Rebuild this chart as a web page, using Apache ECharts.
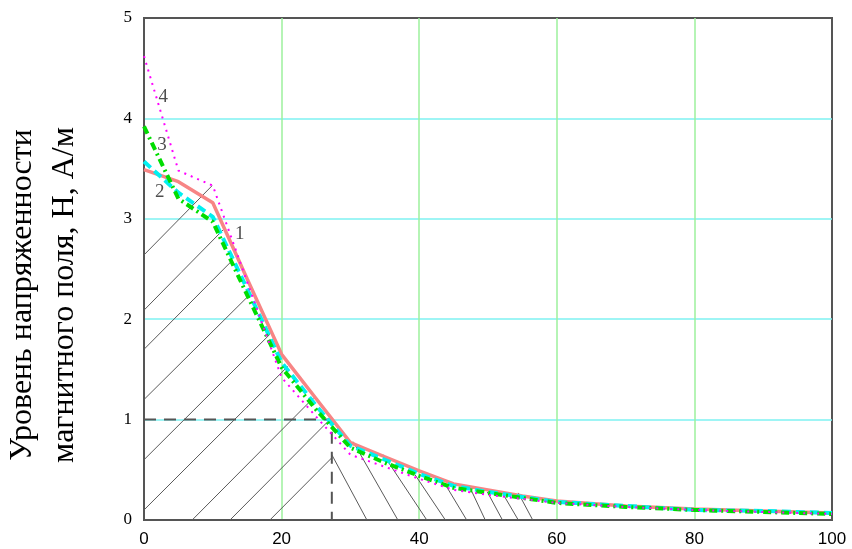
<!DOCTYPE html>
<html>
<head>
<meta charset="utf-8">
<script src="https://cdn.jsdelivr.net/npm/echarts@6/dist/echarts.min.js"></script>
<style>html,body{margin:0;padding:0;background:#fff}#c{width:852px;height:549px}</style>
</head>
<body>
<div id="c"></div>
<script>
// ---- data ----
const xs = [0, 5, 10, 15, 20, 25, 30, 35, 40, 45, 50, 55, 60, 70, 80, 90, 100];
const curve1 = [3.49, 3.37, 3.16, 2.40, 1.65, 1.21, 0.77, 0.63, 0.49, 0.36, 0.30, 0.24, 0.19, 0.14, 0.11, 0.09, 0.07];
const curve2 = [3.57, 3.26, 3.02, 2.30, 1.57, 1.14, 0.74, 0.60, 0.46, 0.34, 0.28, 0.23, 0.18, 0.14, 0.10, 0.09, 0.07];
const curve3 = [3.92, 3.20, 2.97, 2.24, 1.52, 1.10, 0.72, 0.57, 0.44, 0.32, 0.27, 0.22, 0.17, 0.13, 0.10, 0.08, 0.06];
const curve4 = [4.62, 3.48, 3.33, 2.37, 1.42, 1.03, 0.65, 0.53, 0.41, 0.30, 0.25, 0.21, 0.17, 0.13, 0.10, 0.08, 0.06];
const curveNames = ['1', '2', '3', '4'];
// hatch segments [x1, y1, x2, y2]
const hatchForward = [
  [0, 2.64, 9.9, 3.33], [0, 2.09, 11.5, 2.89], [0, 1.70, 12.9, 2.59],
  [0, 1.20, 15.6, 2.26], [0, 0.60, 18.3, 1.85], [0, 0.10, 20.9, 1.53],
  [7.0, 0, 24.7, 1.22], [12.5, 0, 27.3, 1.02], [18.3, 0, 27.3, 0.62]
];
const hatchBack = [
  [27.3, 0.65, 32.4, 0], [30.4, 0.78, 36.9, 0], [34.8, 0.65, 41.1, 0],
  [39.4, 0.45, 43.8, 0], [44.0, 0.33, 46.9, 0], [47.4, 0.32, 49.6, 0],
  [49.9, 0.28, 52.1, 0], [52.0, 0.28, 54.4, 0], [54.4, 0.27, 56.5, 0]
];
const guide = [[0, 1], [27.3, 1], [27.3, 0]];
const labelPts = [[13.9, 2.85, '1'], [2.3, 3.27, '2'], [2.6, 3.73, '3'], [2.8, 4.21, '4']];
const xTicks = [0, 20, 40, 60, 80, 100];
const yTicks = [0, 1, 2, 3, 4, 5];
const yTitle = 'Уровень напряженности\nмагнитного поля, Н, А/м';

function pairs(ys) { return xs.map((x, i) => [x, ys[i]]); }

const chart = echarts.init(document.getElementById('c'), null, {renderer: 'canvas'});

function hatchSeries(data) {
  return {
    type: 'custom',
    data: data,
    z: 2,
    silent: true,
    encode: {x: [0, 2], y: [1, 3]},
    renderItem: function (params, api) {
      const p1 = api.coord([api.value(0), api.value(1)]);
      const p2 = api.coord([api.value(2), api.value(3)]);
      return {
        type: 'line',
        shape: {x1: p1[0], y1: p1[1], x2: p2[0], y2: p2[1]},
        style: {stroke: '#5a5a5a', lineWidth: 1}
      };
    }
  };
}

chart.setOption({
  animation: false,
  backgroundColor: '#ffffff',
  grid: {left: 144, right: 20, top: 18, bottom: 29, outerBoundsMode: 'none', containLabel: false,
         show: true, borderColor: '#555', borderWidth: 2, backgroundColor: 'transparent'},
  xAxis: {
    type: 'value', min: xTicks[0], max: xTicks[xTicks.length - 1], interval: 20,
    axisLine: {show: true, lineStyle: {color: '#555', width: 2}},
    axisTick: {show: false},
    axisLabel: {color: '#000', fontSize: 17, fontFamily: 'Liberation Sans', margin: 11},
    splitLine: {show: true, showMinLine: false, showMaxLine: false, lineStyle: {color: '#9cf09c', width: 1.5}}
  },
  yAxis: {
    type: 'value', min: yTicks[0], max: yTicks[yTicks.length - 1], interval: 1,
    name: yTitle, nameLocation: 'middle', nameRotate: 90, nameGap: 58,
    nameTextStyle: {color: '#000', fontSize: 32, fontFamily: 'Liberation Serif', lineHeight: 42, padding: [0, 52, 0, 0]},
    axisLine: {show: true, lineStyle: {color: '#555', width: 2}},
    axisTick: {show: false},
    axisLabel: {color: '#000', fontSize: 17, fontFamily: 'Liberation Serif', margin: 12},
    splitLine: {show: true, showMinLine: false, showMaxLine: false, lineStyle: {color: '#7ef2f2', width: 1.5}}
  },
  series: [
    hatchSeries(hatchForward),
    hatchSeries(hatchBack),
    {
      type: 'line', data: guide, symbol: 'none', z: 3, silent: true,
      lineStyle: {color: '#555', width: 2, type: [12, 8]}
    },
    {
      name: curveNames[0], type: 'line', data: pairs(curve1), symbol: 'none', z: 4,
      lineStyle: {color: '#f78585', width: 3.5}
    },
    {
      name: curveNames[1], type: 'line', data: pairs(curve2), symbol: 'none', z: 5,
      lineStyle: {color: '#00f0f0', width: 4, type: [9, 5]}
    },
    {
      name: curveNames[2], type: 'line', data: pairs(curve3), symbol: 'none', z: 6,
      lineStyle: {color: '#00dd00', width: 4, type: [8, 4, 2, 4]}
    },
    {
      name: curveNames[3], type: 'line', data: pairs(curve4), symbol: 'none', z: 7,
      lineStyle: {color: '#ff00ff', width: 2, type: [2, 5]}
    },
    {
      type: 'scatter', data: labelPts, symbolSize: 0, z: 8, silent: true,
      label: {show: true, position: 'inside', formatter: p => p.value[2], color: '#222', fontSize: 19, fontFamily: 'Liberation Serif'}
    }
  ]
});
</script>
</body>
</html>
